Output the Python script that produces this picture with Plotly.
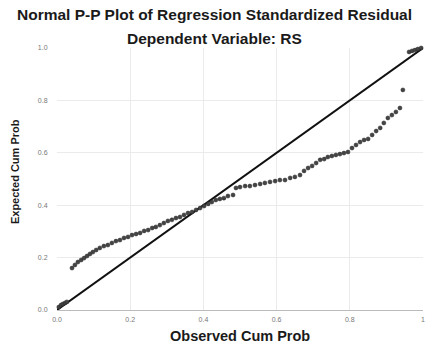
import plotly.graph_objects as go

observed = [0.005, 0.011, 0.016, 0.022, 0.027,
            0.041, 0.049, 0.057, 0.066, 0.074, 0.082, 0.090, 0.098, 0.107, 0.117,
            0.128, 0.139, 0.150, 0.161, 0.172, 0.183, 0.194, 0.205, 0.216, 0.227,
            0.238, 0.249, 0.260, 0.270, 0.281, 0.292, 0.303, 0.314, 0.325, 0.336,
            0.347, 0.358, 0.369, 0.380, 0.391, 0.402, 0.413, 0.423, 0.434, 0.445,
            0.456, 0.467, 0.481, 0.489, 0.500, 0.514, 0.527, 0.541, 0.555, 0.568,
            0.582, 0.596, 0.609, 0.623, 0.637, 0.650, 0.664, 0.675, 0.686, 0.697,
            0.708, 0.719, 0.730, 0.740, 0.751, 0.762, 0.773, 0.784, 0.795, 0.806,
            0.817, 0.828, 0.839, 0.850, 0.861, 0.872, 0.883, 0.893, 0.904, 0.915,
            0.926, 0.937, 0.945, 0.962, 0.970, 0.978, 0.986, 0.995]
expected = [0.011, 0.019, 0.023, 0.027, 0.031,
            0.160, 0.172, 0.183, 0.191, 0.198, 0.206, 0.214, 0.221, 0.229, 0.237,
            0.244, 0.248, 0.256, 0.263, 0.267, 0.275, 0.279, 0.286, 0.290, 0.294,
            0.302, 0.305, 0.313, 0.317, 0.324, 0.332, 0.340, 0.344, 0.351, 0.355,
            0.363, 0.370, 0.374, 0.382, 0.389, 0.397, 0.405, 0.412, 0.420, 0.424,
            0.427, 0.435, 0.439, 0.466, 0.469, 0.473, 0.473, 0.477, 0.481, 0.485,
            0.489, 0.492, 0.496, 0.496, 0.504, 0.508, 0.515, 0.531, 0.542, 0.550,
            0.561, 0.573, 0.576, 0.584, 0.588, 0.592, 0.595, 0.599, 0.603, 0.618,
            0.630, 0.641, 0.649, 0.653, 0.668, 0.683, 0.695, 0.714, 0.733, 0.744,
            0.756, 0.771, 0.840, 0.985, 0.989, 0.992, 0.996, 1.000]

diag = [0.0, 1.0]
x_ticks = [0.0, 0.2, 0.4, 0.6, 0.8, 1.0]
x_tick_labels = ["0.0", "0.2", "0.4", "0.6", "0.8", "1"]
y_ticks = [0.0, 0.2, 0.4, 0.6, 0.8, 1.0]
y_tick_labels = ["0.0", "0.2", "0.4", "0.6", "0.8", "1.0"]

title = "Normal P-P Plot of Regression Standardized Residual"
subtitle = "Dependent Variable: RS"
x_title = "Observed Cum Prob"
y_title = "Expected Cum Prob"

fig = go.Figure()
fig.add_trace(go.Scatter(x=diag, y=diag, mode="lines",
                         line=dict(color="#111111", width=2), hoverinfo="skip",
                         cliponaxis=False))
fig.add_trace(go.Scatter(x=observed, y=expected, mode="markers",
                         marker=dict(size=4, color="#444444",
                                     line=dict(color="#222222", width=0.5)),
                         cliponaxis=False))

fig.update_layout(
    width=426, height=345,
    margin=dict(l=57, r=3, t=48, b=35, autoexpand=False),
    paper_bgcolor="white", plot_bgcolor="white",
    showlegend=False,
    font=dict(family="Liberation Sans, Arial, sans-serif", color="#111111"),
)

def add_text(text, x, y, size, angle=0):
    fig.add_annotation(text="<b>%s</b>" % text, x=x, y=y, xref="paper", yref="paper",
                       xanchor="center", yanchor="middle", showarrow=False,
                       textangle=angle, font=dict(size=size, color="#1a1a1a"))

add_text(title, 0.43, 1.126, 15.5)
add_text(subtitle, 0.43, 1.038, 15.5)
add_text(x_title, 0.5, -0.098, 14.5)
add_text(y_title, -0.115, 0.53, 11, angle=-90)

fig.update_xaxes(range=[0, 1], tickvals=x_ticks, ticktext=x_tick_labels,
                 showgrid=True, gridcolor="#ebebeb", gridwidth=1, automargin=False,
                 zeroline=False, showline=True, linecolor="#bbbbbb", linewidth=1,
                 ticks="outside", ticklen=3, tickcolor="rgba(0,0,0,0)",
                 ticklabeloverflow="allow",
                 tickfont=dict(size=7, color="#777777"))
fig.update_yaxes(range=[0, 1], tickvals=y_ticks, ticktext=y_tick_labels,
                 showgrid=True, gridcolor="#ebebeb", gridwidth=1, automargin=False,
                 zeroline=False, showline=False,
                 ticks="outside", ticklen=7, tickcolor="rgba(0,0,0,0)",
                 ticklabeloverflow="allow",
                 tickfont=dict(size=7, color="#777777"))

fig.write_html("out.html", config={"displayModeBar": False},
               post_script="document.body.style.margin='0';")
